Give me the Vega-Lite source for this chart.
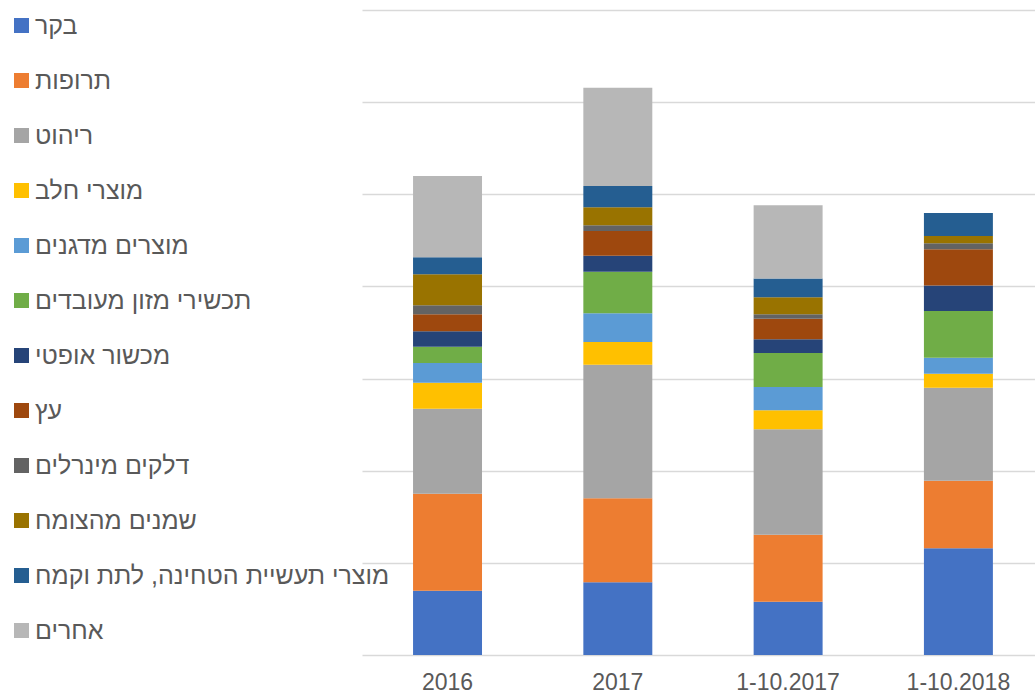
{
  "$schema": "https://vega.github.io/schema/vega-lite/v6.json",
  "width": 673,
  "height": 645,
  "autosize": {"type": "none"},
  "padding": {"left": 362, "top": 10, "right": 0, "bottom": 41},
  "background": "white",
  "config": {
    "view": {"stroke": null},
    "font": "Liberation Sans"
  },
  "data": {
    "values": [
      {"cat": "2016", "series": "בקר", "n": 1, "value": 6.98},
      {"cat": "2016", "series": "תרופות", "n": 2, "value": 10.53},
      {"cat": "2016", "series": "ריהוט", "n": 3, "value": 9.22},
      {"cat": "2016", "series": "מוצרי חלב", "n": 4, "value": 2.82},
      {"cat": "2016", "series": "מוצרים מדגנים", "n": 5, "value": 2.14},
      {"cat": "2016", "series": "תכשירי מזון מעובדים", "n": 6, "value": 1.77},
      {"cat": "2016", "series": "מכשור אופטי", "n": 7, "value": 1.67},
      {"cat": "2016", "series": "עץ", "n": 8, "value": 1.85},
      {"cat": "2016", "series": "דלקים מינרלים", "n": 9, "value": 0.98},
      {"cat": "2016", "series": "שמנים מהצומח", "n": 10, "value": 3.36},
      {"cat": "2016", "series": "מוצרי תעשיית הטחינה, לתת וקמח", "n": 11, "value": 1.85},
      {"cat": "2016", "series": "אחרים", "n": 12, "value": 8.82},

      {"cat": "2017", "series": "בקר", "n": 1, "value": 7.89},
      {"cat": "2017", "series": "תרופות", "n": 2, "value": 9.12},
      {"cat": "2017", "series": "ריהוט", "n": 3, "value": 14.5},
      {"cat": "2017", "series": "מוצרי חלב", "n": 4, "value": 2.46},
      {"cat": "2017", "series": "מוצרים מדגנים", "n": 5, "value": 3.11},
      {"cat": "2017", "series": "תכשירי מזון מעובדים", "n": 6, "value": 4.51},
      {"cat": "2017", "series": "מכשור אופטי", "n": 7, "value": 1.74},
      {"cat": "2017", "series": "עץ", "n": 8, "value": 2.68},
      {"cat": "2017", "series": "דלקים מינרלים", "n": 9, "value": 0.62},
      {"cat": "2017", "series": "שמנים מהצומח", "n": 10, "value": 1.95},
      {"cat": "2017", "series": "מוצרי תעשיית הטחינה, לתת וקמח", "n": 11, "value": 2.31},
      {"cat": "2017", "series": "אחרים", "n": 12, "value": 10.67},

      {"cat": "1-10.2017", "series": "בקר", "n": 1, "value": 5.78},
      {"cat": "1-10.2017", "series": "תרופות", "n": 2, "value": 7.27},
      {"cat": "1-10.2017", "series": "ריהוט", "n": 3, "value": 11.44},
      {"cat": "1-10.2017", "series": "מוצרי חלב", "n": 4, "value": 2.06},
      {"cat": "1-10.2017", "series": "מוצרים מדגנים", "n": 5, "value": 2.53},
      {"cat": "1-10.2017", "series": "תכשירי מזון מעובדים", "n": 6, "value": 3.69},
      {"cat": "1-10.2017", "series": "מכשור אופטי", "n": 7, "value": 1.49},
      {"cat": "1-10.2017", "series": "עץ", "n": 8, "value": 2.24},
      {"cat": "1-10.2017", "series": "דלקים מינרלים", "n": 9, "value": 0.48},
      {"cat": "1-10.2017", "series": "שמנים מהצומח", "n": 10, "value": 1.85},
      {"cat": "1-10.2017", "series": "מוצרי תעשיית הטחינה, לתת וקמח", "n": 11, "value": 2.02},
      {"cat": "1-10.2017", "series": "אחרים", "n": 12, "value": 7.97},

      {"cat": "1-10.2018", "series": "בקר", "n": 1, "value": 11.58},
      {"cat": "1-10.2018", "series": "תרופות", "n": 2, "value": 7.34},
      {"cat": "1-10.2018", "series": "ריהוט", "n": 3, "value": 10.09},
      {"cat": "1-10.2018", "series": "מוצרי חלב", "n": 4, "value": 1.52},
      {"cat": "1-10.2018", "series": "מוצרים מדגנים", "n": 5, "value": 1.74},
      {"cat": "1-10.2018", "series": "תכשירי מזון מעובדים", "n": 6, "value": 5.07},
      {"cat": "1-10.2018", "series": "מכשור אופטי", "n": 7, "value": 2.75},
      {"cat": "1-10.2018", "series": "עץ", "n": 8, "value": 3.95},
      {"cat": "1-10.2018", "series": "דלקים מינרלים", "n": 9, "value": 0.65},
      {"cat": "1-10.2018", "series": "שמנים מהצומח", "n": 10, "value": 0.79},
      {"cat": "1-10.2018", "series": "מוצרי תעשיית הטחינה, לתת וקמח", "n": 11, "value": 2.5},
      {"cat": "1-10.2018", "series": "אחרים", "n": 12, "value": 0}
    ]
  },
  "mark": {"type": "bar"},
  "encoding": {
    "x": {
      "field": "cat",
      "type": "nominal",
      "sort": ["2016", "2017", "1-10.2017", "1-10.2018"],
      "scale": {"paddingInner": 0.595, "paddingOuter": 0.2735, "align": 0.548},
      "axis": {
        "title": null,
        "labelAngle": 0,
        "labelFontSize": 23,
        "labelColor": "#595959",
        "labelPadding": 16,
        "ticks": false,
        "domain": false
      }
    },
    "y": {
      "field": "value",
      "type": "quantitative",
      "stack": "zero",
      "scale": {"domain": [0, 70], "nice": false},
      "axis": {
        "title": null,
        "labels": false,
        "ticks": false,
        "domain": false,
        "values": [0, 10, 20, 30, 40, 50, 60, 70],
        "grid": true,
        "gridColor": "#D9D9D9",
        "gridWidth": 1.5
      }
    },
    "order": {"field": "n", "type": "quantitative", "sort": "ascending"},
    "color": {
      "field": "series",
      "type": "nominal",
      "scale": {
        "domain": ["בקר", "תרופות", "ריהוט", "מוצרי חלב", "מוצרים מדגנים", "תכשירי מזון מעובדים", "מכשור אופטי", "עץ", "דלקים מינרלים", "שמנים מהצומח", "מוצרי תעשיית הטחינה, לתת וקמח", "אחרים"],
        "range": ["#4472C4", "#ED7D31", "#A5A5A5", "#FFC000", "#5B9BD5", "#70AD47", "#264478", "#9E480E", "#636363", "#997300", "#255E91", "#B7B7B7"]
      },
      "legend": {
        "title": null,
        "orient": "none",
        "legendX": -353,
        "legendY": 3,
        "padding": 0,
        "symbolType": "square",
        "symbolSize": 225,
        "symbolStrokeWidth": 0,
        "labelFontSize": 25,
        "labelColor": "#595959",
        "labelOffset": 1,
        "labelLimit": 400,
        "rowPadding": 29
      }
    }
  }
}
